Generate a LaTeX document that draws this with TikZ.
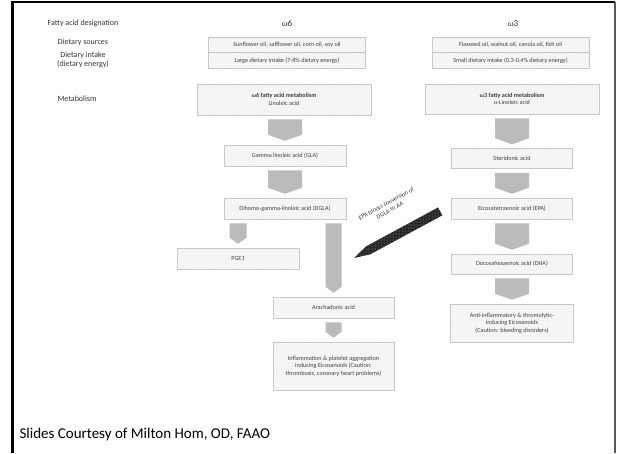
\documentclass[tikz,border=0pt]{standalone}
\usepackage{fontspec}
\setmainfont{Carlito}
\newfontfamily\greekfont{Liberation Serif}
\usepackage{tikz}
\usetikzlibrary{patterns}
\usetikzlibrary{shadows}
\usetikzlibrary{calc}

\newcommand{\blockarrow}[3]{%
    \path [flowarrow] let \p1 = (#1.south), \p2 = (#2.north) in
        (\x2-#3pt, \y1-4pt) -- (\x2+#3pt, \y1-4pt) -- (\x2+#3pt, \y2+10pt)
        -- (\x2, \y2+4pt) -- (\x2-#3pt, \y2+10pt) -- cycle;}

\begin{document}
\begin{tikzpicture}[x=1pt, y=-1pt,
        box/.style 2 args={draw=gray!45, line width=0.5pt, fill=gray!7,
            postaction={pattern=dots, pattern color=gray!22},
            drop shadow={shadow xshift=0.8pt, shadow yshift=-0.8pt, opacity=0.3},
            minimum width=#1pt, minimum height=#2pt, inner sep=1pt,
            align=center, text=black!75, font=\fontsize{6.2}{7.6}\selectfont},
        flowarrow/.style={fill=gray!55, postaction={pattern=dots, pattern color=gray!30}},
        rowlabel/.style={align=center, text=black!80, font=\fontsize{8}{9.6}\selectfont},
        heading/.style={text=black!80, font=\fontsize{9}{10}\selectfont}]
            \path [use as bounding box, fill=white] (0, 0) rectangle (617, 453);
            \draw [line width=2.5pt] (12.5, 453) -- (12.5, 2) -- (615, 2);
            \draw [line width=1.2pt, black!65] (615, 2) -- (615, 453);
            % row labels
            \node [rowlabel] (designation) at (83, 23.5) {Fatty acid designation};
            \node [rowlabel] (sources) at (83, 42) {Dietary sources};
            \node [rowlabel] (intake) at (83, 60) {Dietary intake\\(dietary energy)};
            \node [rowlabel] (metabolism) at (77, 99) {Metabolism};
            \node [heading] (omegasix) at (287, 23.5) {{\greekfont ω}6};
            \node [heading] (omegathree) at (513, 23.5) {{\greekfont ω}3};
            % omega 6
            \node [box={157}{15}] (srcsix) at (287, 44.5) {Sunflower oil, safflower oil, corn oil, soy oil};
            \node [box={157}{16}] (intsix) at (287, 60.5) {Large dietary intake (7-8\% dietary energy)};
            \node [box={174}{31}] (metsix) at (284, 99.5) {\textbf{{\greekfont ω}6 fatty acid metabolism}\\Linoleic acid};
            \node [box={122}{21}] (gla) at (285, 155.5) {Gamma linoleic acid (GLA)};
            \node [box={122}{21}] (dgla) at (285, 208.5) {Dihomo-gamma-linoleic acid (DGLA)};
            \node [box={122}{21}] (pge) at (238, 258.5) {PGE1};
            \node [box={121}{21}] (aa) at (333.5, 307.5) {Arachadonic acid};
            \node [box={121}{48}] (inflam) at (333.5, 366) {Inflammation \& platelet aggregation\\inducing Eicosanoids (Caution:\\thrombosis, coronary heart problems)};
            % omega 3
            \node [box={157}{15}] (srcthree) at (510.5, 44.5) {Flaxseed oil, walnut oil, canola oil, fish oil};
            \node [box={157}{16}] (intthree) at (510.5, 60.5) {Small dietary intake (0.3-0.4\% dietary energy)};
            \node [box={174}{30}] (metthree) at (512, 99) {\textbf{{\greekfont ω}3 fatty acid metabolism}\\{\greekfont α}-Linoleic acid};
            \node [box={121}{20}] (ster) at (512, 158.5) {Steridonic acid};
            \node [box={121}{21}] (epa) at (512, 208.5) {Eicosatetraenoic acid (EPA)};
            \node [box={121}{20}] (dha) at (512, 264) {Docosahexaenoic acid (DHA)};
            \node [box={123}{38}] (antiinf) at (512, 323) {Anti-inflammatory \& thromolytic-\\inducing Eicosanoids\\(Caution: bleeding disorders)};
            % arrows
            \blockarrow{metsix}{gla}{17}
            \blockarrow{gla}{dgla}{17}
            \blockarrow{dgla}{pge}{8.5}
            \blockarrow{dgla}{aa}{8}
            \blockarrow{aa}{inflam}{8}
            \blockarrow{metthree}{ster}{17}
            \blockarrow{ster}{epa}{17}
            \blockarrow{epa}{dha}{17}
            \blockarrow{dha}{antiinf}{17}
            % EPA block
            \coordinate (blocktip) at (354, 258);
            \begin{scope}[shift={(blocktip)}, rotate=28.4]
                \fill [black!85, postaction={pattern=dots, pattern color=gray!60}]
                    (0, 0) -- (16, -4.5) -- (98, -4.5) -- (98, 4.5) -- (16, 4.5) -- cycle;
            \end{scope}
            \node [rotate=28.4, align=center, text=black!80, font=\fontsize{6.2}{7.6}\selectfont] (blocknote) at (388, 207) {EPA blocks conversion of\\DGLA to AA};
            \node [anchor=base west, font=\fontsize{15}{18}\selectfont] (credit) at (16, 438) {Slides Courtesy of Milton Hom, OD, FAAO};
\end{tikzpicture}
\end{document}
